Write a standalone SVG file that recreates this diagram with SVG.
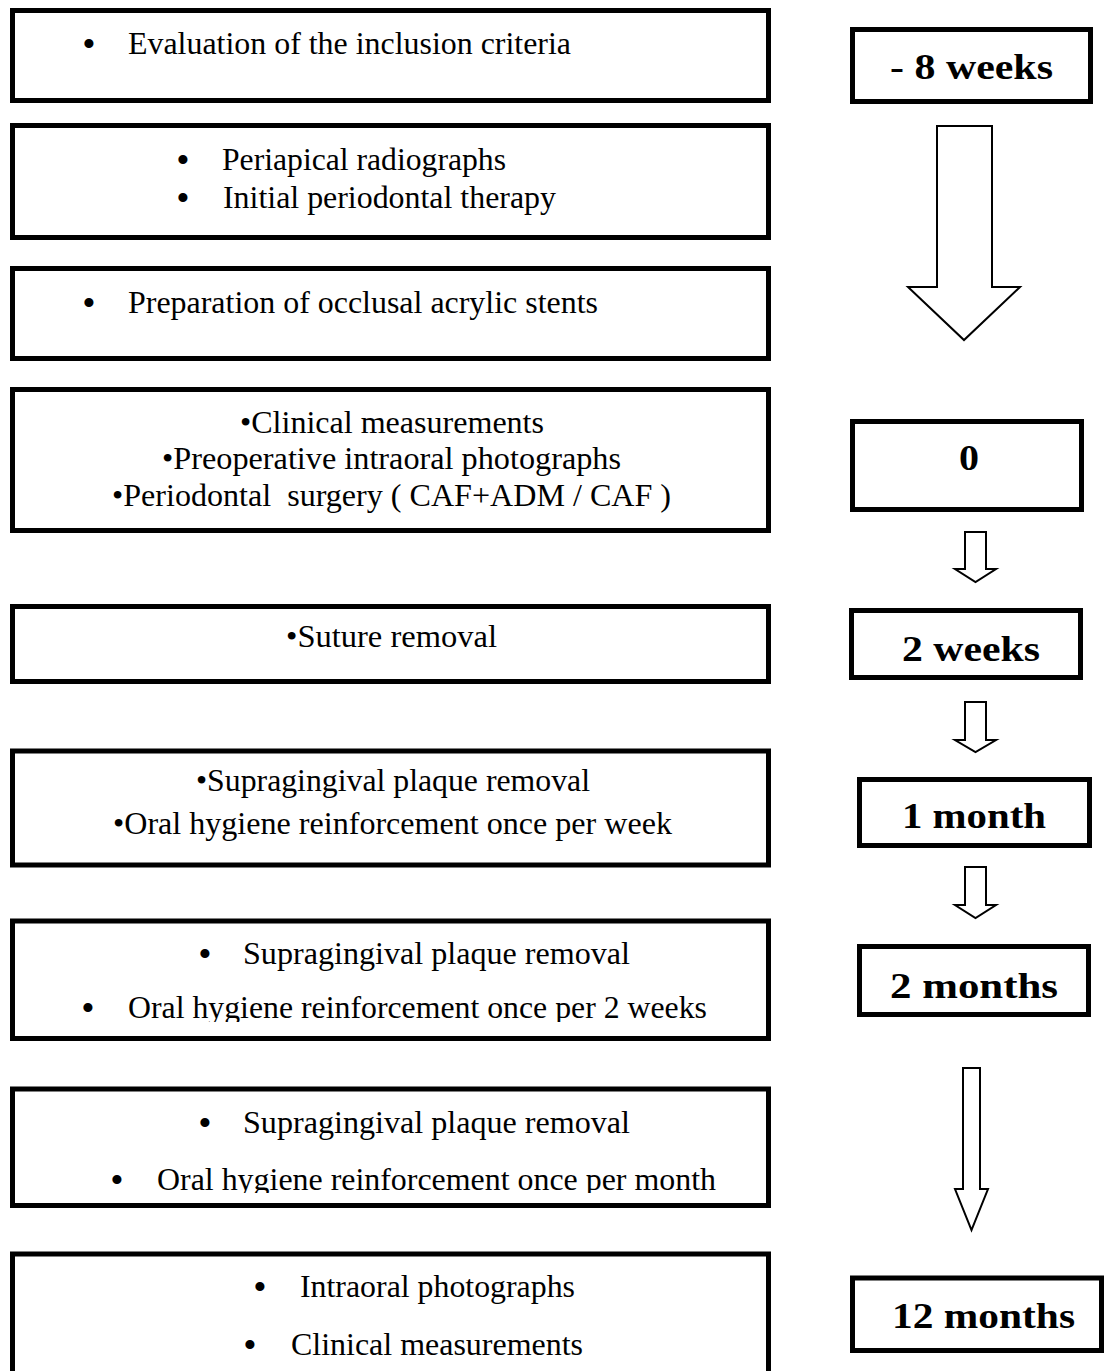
<svg xmlns="http://www.w3.org/2000/svg" width="1106" height="1371" viewBox="0 0 1106 1371">
<style>
  .box { fill: #fff; stroke: #000; stroke-width: 5; }
  .tbox { fill: #fff; stroke: #000; stroke-width: 5; }
  .t { font-family: "Liberation Serif", "Times New Roman", serif; font-size: 31px; fill: #000; }
  .b { font-family: "Liberation Serif", "Times New Roman", serif; font-size: 38px; fill: #000; text-anchor: middle; }
  .lbl { font-family: "Liberation Serif", "Times New Roman", serif; font-size: 36px; font-weight: bold; fill: #000; }
  .arrow { fill: #fff; stroke: #000; stroke-width: 2; stroke-linejoin: miter; }
</style>
<defs>
  <clipPath id="clip7"><rect x="0" y="900" width="1106" height="122"/></clipPath>
  <clipPath id="clip8"><rect x="0" y="1070" width="1106" height="123"/></clipPath>
</defs>
<rect width="1106" height="1371" fill="#fff"/>

<g id="connectors">
  <polygon class="arrow" points="937,126 992,126 992,287 1020,287 964,340 908,287 937,287"/>
  <polygon class="arrow" points="965,532 986,532 986,569 996,569 975.5,582 955,569 965,569"/>
  <polygon class="arrow" points="965,702 986,702 986,740 996,740 975.5,752 955,740 965,740"/>
  <polygon class="arrow" points="965,867 986,867 986,905 996,905 975.5,918 955,905 965,905"/>
  <polygon class="arrow" points="963,1068 980,1068 980,1189 988,1189 971.5,1230 955,1189 963,1189"/>
</g>

<g id="step1">
  <rect class="box" x="12.5" y="10.5" width="756" height="90"/>
  <text class="b" x="89" y="57">•</text>
  <text class="t" x="128" y="54" textLength="443" lengthAdjust="spacingAndGlyphs">Evaluation of the inclusion criteria</text>
</g>
<g id="step2">
  <rect class="box" x="12.5" y="125.5" width="756" height="112"/>
  <text class="b" x="183" y="173">•</text>
  <text class="t" x="222" y="170" textLength="284" lengthAdjust="spacingAndGlyphs">Periapical radiographs</text>
  <text class="b" x="183" y="211">•</text>
  <text class="t" x="223" y="208" textLength="333" lengthAdjust="spacingAndGlyphs">Initial periodontal therapy</text>
</g>
<g id="step3">
  <rect class="box" x="12.5" y="268.5" width="756" height="90"/>
  <text class="b" x="89" y="316">•</text>
  <text class="t" x="128" y="313" textLength="470" lengthAdjust="spacingAndGlyphs">Preparation of occlusal acrylic stents</text>
</g>
<g id="step4">
  <rect class="box" x="12.5" y="389.5" width="756" height="141"/>
  <text class="t" x="240" y="433" textLength="304" lengthAdjust="spacingAndGlyphs">•Clinical measurements</text>
  <text class="t" x="162" y="469" textLength="459" lengthAdjust="spacingAndGlyphs">•Preoperative intraoral photographs</text>
  <text class="t" x="112" y="506" textLength="559" lengthAdjust="spacingAndGlyphs" xml:space="preserve">•Periodontal  surgery ( CAF+ADM / CAF )</text>
</g>
<g id="step5">
  <rect class="box" x="12.5" y="606.5" width="756" height="75"/>
  <text class="t" x="286" y="647" textLength="211" lengthAdjust="spacingAndGlyphs">•Suture removal</text>
</g>
<g id="step6">
  <rect class="box" x="12.5" y="751" width="756" height="114"/>
  <text class="t" x="196" y="791" textLength="394" lengthAdjust="spacingAndGlyphs">•Supragingival plaque removal</text>
  <text class="t" x="113" y="834" textLength="559" lengthAdjust="spacingAndGlyphs">•Oral hygiene reinforcement once per week</text>
</g>
<g id="step7">
  <rect class="box" x="12.5" y="921" width="756" height="117.5"/>
  <text class="b" x="205" y="967">•</text>
  <text class="t" x="243" y="964" textLength="387" lengthAdjust="spacingAndGlyphs">Supragingival plaque removal</text>
  <g clip-path="url(#clip7)">
    <text class="b" x="88" y="1021">•</text>
    <text class="t" x="128" y="1018" textLength="579" lengthAdjust="spacingAndGlyphs">Oral hygiene reinforcement once per 2 weeks</text>
  </g>
</g>
<g id="step8">
  <rect class="box" x="12.5" y="1089" width="756" height="116.5"/>
  <text class="b" x="205" y="1136">•</text>
  <text class="t" x="243" y="1133" textLength="387" lengthAdjust="spacingAndGlyphs">Supragingival plaque removal</text>
  <g clip-path="url(#clip8)">
    <text class="b" x="117" y="1193">•</text>
    <text class="t" x="157" y="1190" textLength="559" lengthAdjust="spacingAndGlyphs">Oral hygiene reinforcement once per month</text>
  </g>
</g>
<g id="step9">
  <rect class="box" x="12.5" y="1254" width="756" height="130"/>
  <text class="b" x="260" y="1300">•</text>
  <text class="t" x="300" y="1297" textLength="275" lengthAdjust="spacingAndGlyphs">Intraoral photographs</text>
  <text class="b" x="250" y="1358">•</text>
  <text class="t" x="291" y="1355" textLength="292" lengthAdjust="spacingAndGlyphs">Clinical measurements</text>
</g>

<g id="time-8w">
  <rect class="tbox" x="852.5" y="29.5" width="238" height="72"/>
  <text class="lbl" x="890" y="79" textLength="163" lengthAdjust="spacingAndGlyphs">- 8 weeks</text>
</g>
<g id="time-0">
  <rect class="tbox" x="852.5" y="421.5" width="229" height="88"/>
  <text class="lbl" x="959" y="470" textLength="20" lengthAdjust="spacingAndGlyphs">0</text>
</g>
<g id="time-2w">
  <rect class="tbox" x="851.5" y="610.5" width="229" height="67"/>
  <text class="lbl" x="902" y="661" textLength="138" lengthAdjust="spacingAndGlyphs">2 weeks</text>
</g>
<g id="time-1m">
  <rect class="tbox" x="859.5" y="779.5" width="230" height="66"/>
  <text class="lbl" x="902" y="828" textLength="144" lengthAdjust="spacingAndGlyphs">1 month</text>
</g>
<g id="time-2m">
  <rect class="tbox" x="859.5" y="946.5" width="229" height="68"/>
  <text class="lbl" x="890" y="998" textLength="168" lengthAdjust="spacingAndGlyphs">2 months</text>
</g>
<g id="time-12m">
  <rect class="tbox" x="852.5" y="1278" width="249" height="72.5"/>
  <text class="lbl" x="892" y="1328" textLength="183" lengthAdjust="spacingAndGlyphs">12 months</text>
</g>
</svg>
